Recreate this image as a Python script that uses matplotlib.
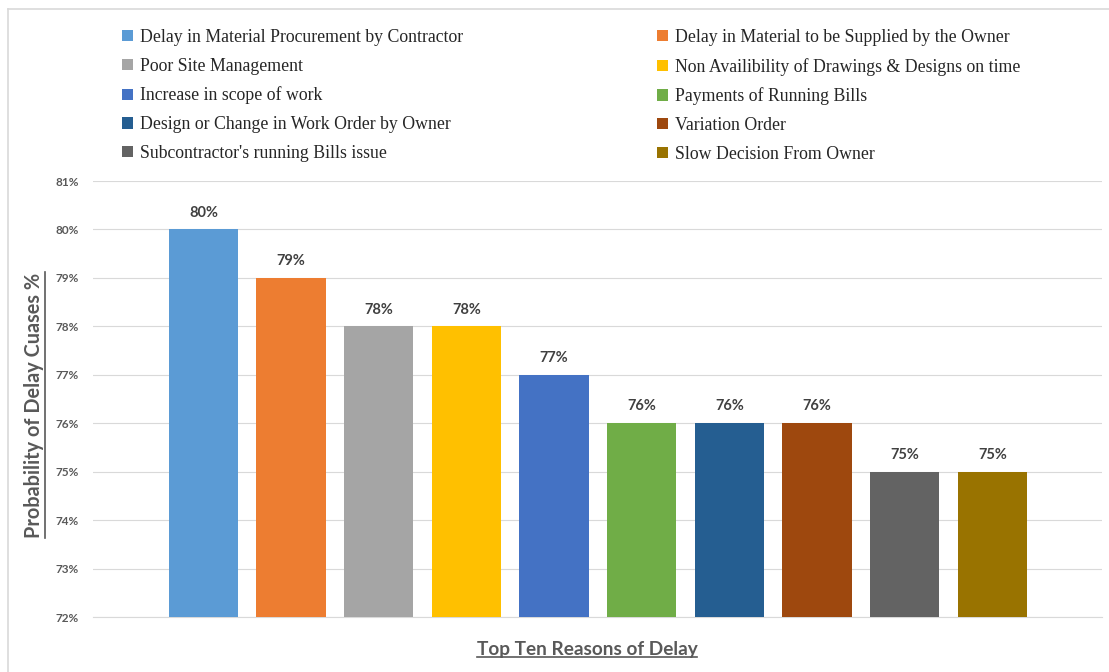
import matplotlib.pyplot as plt
from matplotlib.patches import Patch
from matplotlib.lines import Line2D

# Data
reasons = [
    "Delay in Material Procurement by Contractor",
    "Delay in Material to be Supplied by the Owner",
    "Poor Site Management",
    "Non Availibility of Drawings & Designs on time",
    "Increase in scope of work",
    "Payments of Running Bills",
    "Design or Change in Work Order by Owner",
    "Variation Order",
    "Subcontractor's running Bills issue",
    "Slow Decision From Owner",
]
probability = [80, 79, 78, 78, 77, 76, 76, 76, 75, 75]
colors = ["#5B9BD5", "#ED7D31", "#A5A5A5", "#FFC000", "#4472C4",
          "#70AD47", "#255E91", "#9E480E", "#636363", "#997300"]
y_ticks = [72, 73, 74, 75, 76, 77, 78, 79, 80, 81]

sans = "Lato"
grey = "#595959"

fig = plt.figure(figsize=(11.09, 6.72), dpi=100)
ax = fig.add_axes([93 / 1109, 1 - 617 / 672, (1102 - 93) / 1109, (617 - 181) / 672])

x = list(range(len(probability)))
bars = ax.bar(x, probability, width=0.79, color=colors, zorder=3)

ax.set_ylim(72, 81)
ax.set_xlim(-1.26, 10.25)
ax.set_yticks(y_ticks)
ax.set_yticklabels([f"{t}%" for t in y_ticks], fontsize=8.5, fontweight="bold",
                   color=grey, family=sans)
ax.set_xticks([])
ax.tick_params(axis="y", length=0, pad=10)
ax.grid(axis="y", color="#D9D9D9", linewidth=0.8, zorder=0)
ax.axhline(72, color="#D9D9D9", linewidth=0.8, zorder=0, clip_on=False)
for s in ax.spines.values():
    s.set_visible(False)

# Data labels
for xi, v in zip(x, probability):
    ax.annotate(f"{v}%", (xi, v), xytext=(0, 7), textcoords="offset points",
                ha="center", va="bottom", fontsize=10.5, fontweight="bold",
                color="#404040", family=sans)

# Legend in two columns, filled row by row
handles = [Patch(facecolor=c, edgecolor="none") for c in colors]
leg_kw = dict(loc="upper left", frameon=False, handlelength=0.6, handleheight=0.6,
              handletextpad=0.4, labelspacing=0.66, borderaxespad=0,
              prop={"family": "Liberation Serif", "size": 12.8})
leg1 = fig.legend(handles[0::2], reasons[0::2], bbox_to_anchor=(115 / 1109, 1 - 22 / 672), **leg_kw)
leg2 = fig.legend(handles[1::2], reasons[1::2], bbox_to_anchor=(650 / 1109, 1 - 22 / 672), **leg_kw)
for leg in (leg1, leg2):
    for t in leg.get_texts():
        t.set_color("#262626")

# Axis titles (underlined)
ylab = fig.text(34 / 1109, 1 - 405 / 672, "Probability of Delay Cuases %", rotation=90,
                ha="center", va="center", fontsize=14.3, fontweight="bold", color=grey, family=sans)
xlab = fig.text(587 / 1109, 1 - 649 / 672, "Top Ten Reasons of Delay",
                ha="center", va="center", fontsize=13.7, fontweight="bold", color=grey, family=sans)

fig.canvas.draw()
r = fig.canvas.get_renderer()
W, H = fig.bbox.width, fig.bbox.height
bb = xlab.get_window_extent(r)
fig.add_artist(Line2D([bb.x0 / W, bb.x1 / W], [(bb.y0 + 1) / H] * 2, color=grey, lw=1.2))
bb = ylab.get_window_extent(r)
fig.add_artist(Line2D([(bb.x1 + 1) / W] * 2, [bb.y0 / H, bb.y1 / H], color=grey, lw=1.2))

# Chart frame (top and left edges visible)
fig.add_artist(Line2D([8 / 1109, 1], [1 - 9 / 672] * 2, color="#D9D9D9", lw=1.2))
fig.add_artist(Line2D([8 / 1109] * 2, [0, 1 - 9 / 672], color="#D9D9D9", lw=1.2))

fig.savefig("out.png", dpi=100)
